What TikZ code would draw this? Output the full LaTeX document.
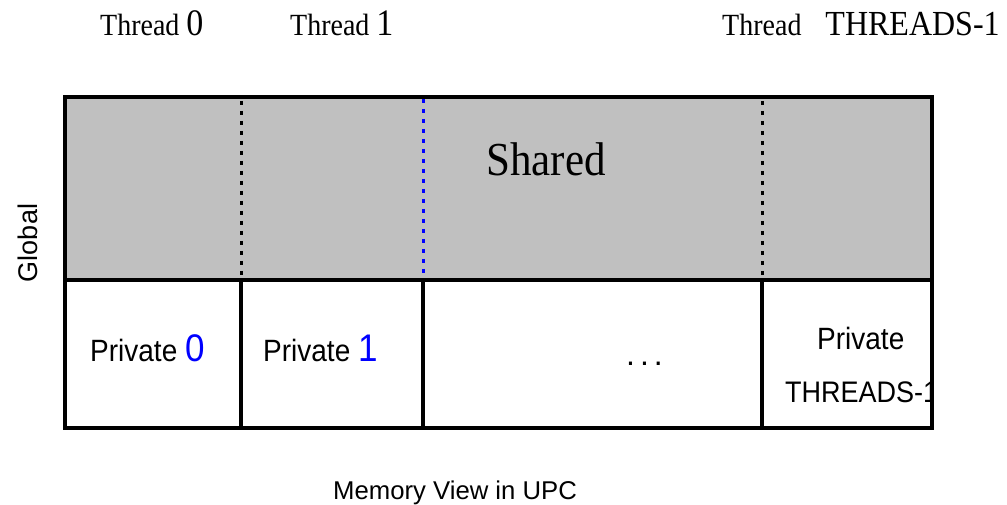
\documentclass[tikz,border=0pt]{standalone}
\usepackage{fontspec}
\newfontfamily\serifx{Liberation Serif}
\newfontfamily\sansx{Liberation Sans}
\definecolor{sharedgray}{HTML}{C0C0C0}
\definecolor{idblue}{HTML}{0000FF}
\newcommand{\fs}[1]{\fontsize{#1}{#1}\selectfont}
\newcommand{\tallx}[1]{\scalebox{1}[1.1]{#1}}
\begin{document}
\begin{tikzpicture}[x=1pt,y=-1pt,
  lbl/.style={inner sep=0pt, anchor=base west},
  cellline/.style={line width=3.5pt},
  dotline/.style={line width=3pt, dash pattern=on 4pt off 6pt}]
\useasboundingbox (0,0) rectangle (1007,505);
% shared region
\fill[sharedgray] (65,97) rectangle (932,280);
\draw[dotline] (241,101) -- (241,278);
\draw[dotline, idblue] (423,99) -- (423,278);
\draw[dotline] (762,101) -- (762,278);
% frame and private cells
\draw[cellline] (65,97) rectangle (932,428);
\draw[cellline] (65,280) -- (932,280);
\draw[cellline] (241,280) -- (241,428);
\draw[cellline] (423,280) -- (423,428);
\draw[cellline] (762,280) -- (762,428);
% thread labels
\node[lbl] (t0) at (100,36) {\serifx\tallx{\fs{28}Thread \fs{34}0}};
\node[lbl] (t1) at (290,36) {\serifx\tallx{\fs{28}Thread \fs{34}1}};
\node[lbl] (tn) at (722,36) {\serifx\tallx{\fs{28}Thread\hspace*{24pt}\fs{32}THREADS-1}};
% shared label
\node[lbl] (sh) at (486,176) {\serifx\tallx{\fs{43}Shared}};
% global label
\node[rotate=90, anchor=base, inner sep=0pt] (gl) at (37,243) {\sansx\fs{27}Global};
% private labels
\node[lbl] (p0) at (90,361) {\sansx\tallx{\fs{28}Private \textcolor{idblue}{\fs{35}0}}};
\node[lbl] (p1) at (263,361) {\sansx\tallx{\fs{28}Private \textcolor{idblue}{\fs{35}1}}};
\node[lbl] (dd) at (626,365) {\sansx\fs{32}.\hspace*{5pt}.\hspace*{5pt}.};
\node[lbl] (pn) at (817,349) {\sansx\tallx{\fs{28}Private}};
\begin{scope}
\clip (764,282) rectangle (932,426);
\node[lbl] (pnt) at (785,402) {\sansx\tallx{\fs{27}THREADS-1}};
\end{scope}
\draw[cellline] (932,280) -- (932,428);
% caption
\node[lbl] (cap) at (333,499) {\sansx\fs{25.7}Memory View in UPC};
\end{tikzpicture}
\end{document}
